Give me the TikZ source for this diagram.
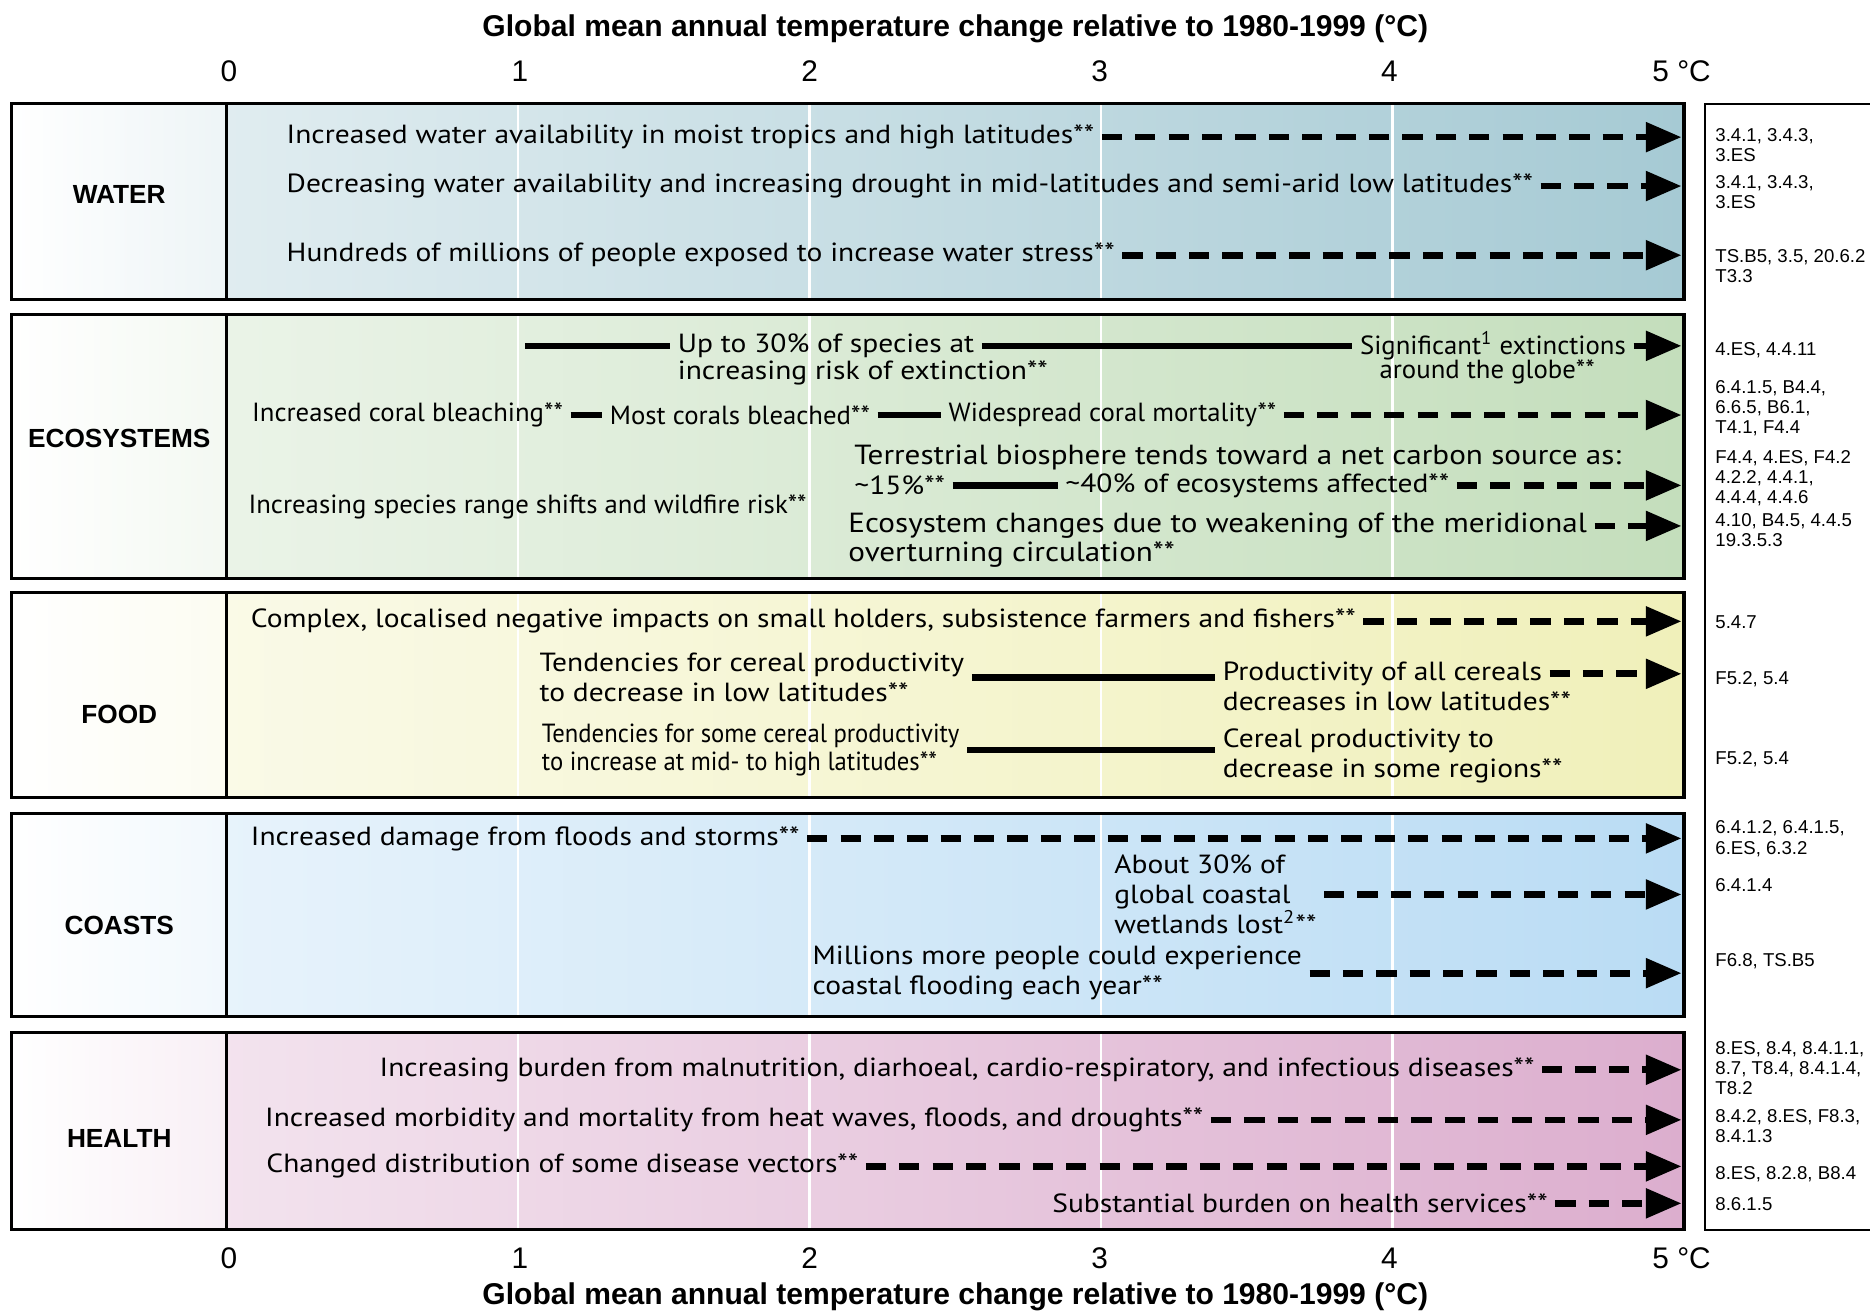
\documentclass[tikz,border=0pt]{standalone}
\usepackage{fontspec}
\setmainfont{PT Sans}[FakeStretch=1.125]
\newfontfamily\headfont{Liberation Sans}
\newfontfamily\narrowfont[FakeStretch=1.02]{PT Sans}
\newfontfamily\tightfont[FakeStretch=0.94]{PT Sans}
\usetikzlibrary{arrows.meta}
\definecolor{waterc}{RGB}{166,202,212}
\definecolor{ecoc}{RGB}{196,222,188}
\definecolor{foodc}{RGB}{240,240,186}
\definecolor{coastc}{RGB}{186,220,244}
\definecolor{healthc}{RGB}{220,174,206}

\begin{document}
\begin{tikzpicture}[x=0.5pt,y=-0.5pt]
    \tikzset{
        rim/.style={line width=1.3pt},
        txt/.style={anchor=west, inner sep=3pt, align=left, font=\fontsize{11}{12.5}\selectfont},
        big/.style={font=\fontsize{11.6}{12.5}\selectfont},
        narrow/.style={font=\narrowfont\fontsize{11}{11.5}\selectfont},
        tight/.style={font=\tightfont\fontsize{11}{11.5}\selectfont},
        title/.style={font=\headfont\bfseries\fontsize{12.6}{14}\selectfont},
        tick/.style={font=\headfont\fontsize{12.5}{14}\selectfont},
        sector/.style={font=\headfont\bfseries\fontsize{11}{13}\selectfont},
        refs/.style={anchor=north west, inner sep=0pt, align=left, font=\headfont\fontsize{7.8}{8.4}\selectfont},
        trend/.style={line width=2.8pt},
        goes on/.style={line width=2.8pt, dash pattern=on 8.5pt off 5.5pt, -{Triangle[length=15pt,width=12pt]}},
    }
    \useasboundingbox[fill=white] (0,0) rectangle (1568,1102);
    \def\fillpanel#1#2#3{%
        \shade[left color=white, right color=#3!20] (10,#1) rectangle (190,#2);
        \shade[left color=#3!35, right color=#3] (190,#1) rectangle (1412,#2);}
    \def\rimpanel#1#2{\draw[rim] (10,#1) rectangle (1412,#2) (190,#1) -- (190,#2);}
    \fillpanel{87}{251}{waterc}
    \fillpanel{264}{485}{ecoc}
    \fillpanel{497}{669}{foodc}
    \fillpanel{682}{852}{coastc}
    \fillpanel{866}{1031}{healthc}
    % white lines at 1, 2, 3 and 4 degrees
    \draw[white, line width=1pt] (434.4,87) -- (434.4,1031) (678.8,87) -- (678.8,1031)
        (923.2,87) -- (923.2,1031) (1167.6,87) -- (1167.6,1031);
    \rimpanel{87}{251}
    \rimpanel{264}{485}
    \rimpanel{497}{669}
    \rimpanel{682}{852}
    \rimpanel{866}{1031}
    \draw[line width=0.8pt] (1590,87) -| (1430,1031) -- (1590,1031);

    % axes
    \node[title] (toptitle) at (801,24) {Global mean annual temperature change relative to 1980-1999 (°C)};
    \node[title] (bottitle) at (801,1087) {Global mean annual temperature change relative to 1980-1999 (°C)};
    \path[tick] (192,60) node (t0) {0} (436,60) node (t1) {1} (679,60) node (t2) {2}
        (922,60) node (t3) {3} (1165,60) node (t4) {4} (1410,60) node (t5) {5 °C};
    \path[tick] (192,1055) node (b0) {0} (436,1055) node (b1) {1} (679,1055) node (b2) {2}
        (922,1055) node (b3) {3} (1165,1055) node (b4) {4} (1410,1055) node (b5) {5 °C};
    \coordinate (tip) at (1410,0);

    % WATER
    \node[sector] (water) at (100,163) {WATER};
    \node[txt] (w1) at (234,115) {Increased water availability in moist tropics and high latitudes**};
    \node[txt] (w2) at (234,156) {Decreasing water availability and increasing drought in mid-latitudes and semi-arid low latitudes**};
    \node[txt] (w3) at (234,214) {Hundreds of millions of people exposed to increase water stress**};
    \draw[goes on] (w1) -- (w1 -| tip);
    \draw[goes on] (w2) -- (w2 -| tip);
    \draw[goes on] (w3) -- (w3 -| tip);

    % ECOSYSTEMS
    \node[sector] (eco) at (100,368) {ECOSYSTEMS};
    \coordinate (e1s) at (440,290);
    \node[txt] (e1a) at (562,290) {Up to 30\% of species at};
    \node[txt] (e1a2) at (562,313) {increasing risk of extinction**};
    \node[txt, narrow] (e1b) at (1134,290) {Significant\textsuperscript{1} extinctions};
    \node[txt, narrow, anchor=center] (e1b2) at (1247,312) {around the globe**};
    \draw[trend] (e1s) -- (e1a);
    \draw[trend] (e1a) -- (e1b);
    \draw[goes on] (e1b) -- (e1b -| tip);
    \node[txt, narrow] (e2a) at (205,348) {Increased coral bleaching**};
    \node[txt, narrow] (e2b) at (505,348) {Most corals bleached**};
    \node[txt, narrow] (e2c) at (789,348) {Widespread coral mortality**};
    \draw[trend] (e2a) -- (e2b);
    \draw[trend] (e2b) -- (e2c);
    \draw[goes on] (e2c) -- (e2c -| tip);
    \node[txt, big] (e3) at (710,384) {Terrestrial biosphere tends toward a net carbon source as:};
    \node[txt] (e3a) at (710,407) {\textasciitilde15\%**};
    \node[txt] (e3b) at (887,407) {\textasciitilde40\% of ecosystems affected**};
    \draw[trend] (e3a) -- (e3b);
    \draw[goes on] (e3b) -- (e3b -| tip);
    \node[txt, narrow] (e4) at (202,425) {Increasing species range shifts and wildfire risk**};
    \node[txt, big] (e5) at (705,441) {Ecosystem changes due to weakening of the meridional};
    \node[txt, big] (e5b) at (705,465) {overturning circulation**};
    \draw[goes on] (e5) -- (e5 -| tip);

    % FOOD
    \node[sector] (food) at (100,599) {FOOD};
    \node[txt] (f1) at (204,521) {Complex, localised negative impacts on small holders, subsistence farmers and fishers**};
    \draw[goes on] (f1) -- (f1 -| tip);
    \node[txt] (f2a) at (446,568) {Tendencies for cereal productivity\\to decrease in low latitudes**};
    \node[txt] (f2b) at (1019,565) {Productivity of all cereals};
    \node[txt] (f2b2) at (1019,588) {decreases in low latitudes**};
    \draw[trend] (f2a) -- (f2a -| f2b.west);
    \draw[goes on] (f2b) -- (f2b -| tip);
    \node[txt, tight] (f3a) at (448,629) {Tendencies for some cereal productivity\\to increase at mid- to high latitudes**};
    \node[txt] (f3b) at (1019,634) {Cereal productivity to\\decrease in some regions**};
    \draw[trend] (f3a) -- (f3a -| f3b.west);

    % COASTS
    \node[sector] (coast) at (100,776) {COASTS};
    \node[txt] (c1) at (204,703) {Increased damage from floods and storms**};
    \draw[goes on] (c1) -- (c1 -| tip);
    \node[txt] (c2) at (928,750) {About 30\% of\\global coastal\\wetlands lost\textsuperscript{2}**};
    \draw[goes on] (c2) -- (c2 -| tip);
    \node[txt] (c3) at (675,816) {Millions more people could experience\\coastal flooding each year**};
    \draw[goes on] (c3) -- (c3 -| tip);

    % HEALTH
    \node[sector] (health) at (100,955) {HEALTH};
    \node[txt] (h1) at (312,897) {Increasing burden from malnutrition, diarhoeal, cardio-respiratory, and infectious diseases**};
    \node[txt] (h2) at (216,939) {Increased morbidity and mortality from heat waves, floods, and droughts**};
    \node[txt] (h3) at (217,978) {Changed distribution of some disease vectors**};
    \node[txt] (h4) at (876,1009) {Substantial burden on health services**};
    \draw[goes on] (h1) -- (h1 -| tip);
    \draw[goes on] (h2) -- (h2 -| tip);
    \draw[goes on] (h3) -- (h3 -| tip);
    \draw[goes on] (h4) -- (h4 -| tip);

    % chapter references
    \node[refs] (rw1) at (1438,107) {3.4.1, 3.4.3,\\3.ES};
    \node[refs] (rw2) at (1438,147) {3.4.1, 3.4.3,\\3.ES};
    \node[refs] (rw3) at (1438,209) {TS.B5, 3.5, 20.6.2\\T3.3};
    \node[refs] (re1) at (1438,287) {4.ES, 4.4.11};
    \node[refs] (re2) at (1438,319) {6.4.1.5, B4.4,\\6.6.5, B6.1,\\T4.1, F4.4};
    \node[refs] (re3) at (1438,377) {F4.4, 4.ES, F4.2\\4.2.2, 4.4.1,\\4.4.4, 4.4.6};
    \node[refs] (re4) at (1438,430) {4.10, B4.5, 4.4.5\\19.3.5.3};
    \node[refs] (rf1) at (1438,516) {5.4.7};
    \node[refs] (rf2) at (1438,563) {F5.2, 5.4};
    \node[refs] (rf3) at (1438,630) {F5.2, 5.4};
    \node[refs] (rc1) at (1438,688) {6.4.1.2, 6.4.1.5,\\6.ES, 6.3.2};
    \node[refs] (rc2) at (1438,736) {6.4.1.4};
    \node[refs] (rc3) at (1438,799) {F6.8, TS.B5};
    \node[refs] (rh1) at (1438,873) {8.ES, 8.4, 8.4.1.1,\\8.7, T8.4, 8.4.1.4,\\T8.2};
    \node[refs] (rh2) at (1438,930) {8.4.2, 8.ES, F8.3,\\8.4.1.3};
    \node[refs] (rh3) at (1438,978) {8.ES, 8.2.8, B8.4};
    \node[refs] (rh4) at (1438,1004) {8.6.1.5};
\end{tikzpicture}
\end{document}
